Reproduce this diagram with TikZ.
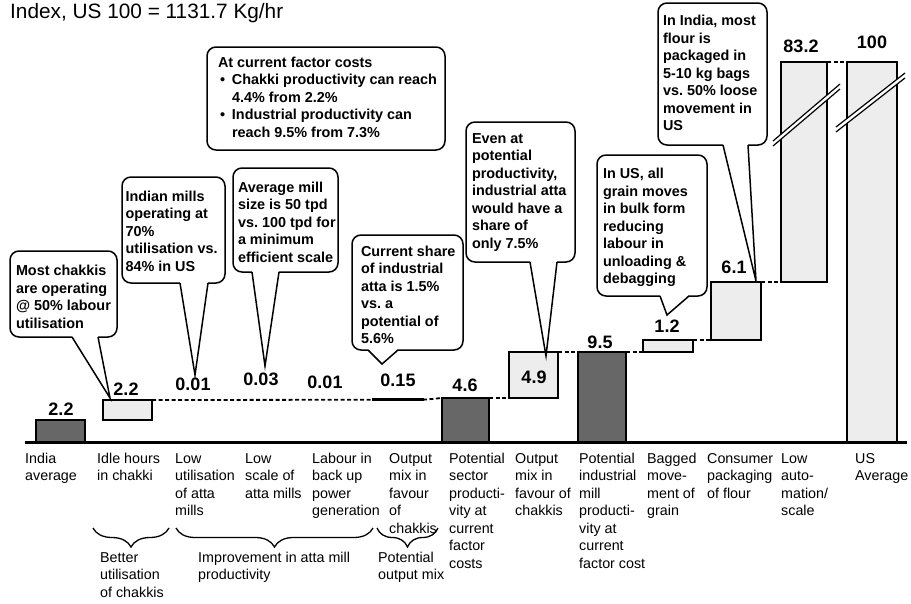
\documentclass[tikz,border=0pt]{standalone}
\usepackage{fontspec}
\setmainfont{Liberation Sans}
\usetikzlibrary{decorations.pathreplacing,calc}
\definecolor{bardark}{HTML}{676767}
\definecolor{barlight}{HTML}{EDEDED}
\newcommand{\fstrut}{\rule{0pt}{11pt}}
% callout body: width, left pad, downward shift, lines
\newcommand{\cbody}[4]{\raisebox{-#3}[\height][\depth]{\makebox[#1][l]{\hspace*{#2}\begin{tabular}{@{}l@{}}#4\end{tabular}}}}
\begin{document}
\frenchspacing
\begin{tikzpicture}[x=1pt,y=-1pt,
  bar/.style={draw=black,line width=1.5pt,inner sep=0pt,outer sep=0pt,anchor=south west},
  dbar/.style={bar,fill=bardark},
  lbar/.style={bar,fill=barlight},
  val/.style={font=\fontsize{18}{20}\selectfont\bfseries,inner sep=0pt,anchor=base},
  cat/.style={font=\fontsize{14.3}{17.5}\selectfont,align=left,inner sep=0pt,anchor=north west},
  callout/.style={draw=black,fill=white,line width=1.5pt,rounded corners=9pt,
     font=\fontsize{14.4}{17.5}\selectfont\bfseries\frenchspacing,inner sep=0pt,
     outer sep=0pt,anchor=north west},
  conn/.style={line width=1.8pt,dash pattern=on 4pt off 2.5pt},
  tailline/.style={line width=1.5pt,line join=miter},
  brc/.style={line width=1.3pt,decorate,decoration={brace,mirror,amplitude=19pt}},
  brk/.style={line width=1.2pt}
]
\useasboundingbox (0,0) rectangle (911,603);

% title
\node[font=\fontsize{20.8}{24}\selectfont,inner sep=0pt,anchor=base west] (title) at (10,18.5) {Index, US 100 = 1131.7 Kg/hr};

% bars
\node[dbar,minimum width=49pt,minimum height=22pt] (b1) at (36,442) {};
\node[lbar,minimum width=49pt,minimum height=20pt] (b2) at (103,420) {};
\node[bar,fill=black,line width=1.2pt,minimum width=50pt,minimum height=1.5pt] (b3) at (373,400.5) {};
\node[dbar,minimum width=47pt,minimum height=44pt] (b4) at (442,442) {};
\node[lbar,minimum width=49pt,minimum height=46pt] (b5) at (509,398) {};
\node[dbar,minimum width=48pt,minimum height=90pt] (b6) at (578,442) {};
\node[lbar,minimum width=50pt,minimum height=12pt] (b7) at (643,352) {};
\node[lbar,minimum width=50pt,minimum height=58pt] (b8) at (711,340) {};
\node[lbar,minimum width=46pt,minimum height=220pt] (b9) at (781,282) {};
\node[lbar,minimum width=50pt,minimum height=380pt] (b10) at (847,442) {};

% axis break marks
\fill[white] (773,141) -- (840,84) -- (840,89) -- (773,146) -- cycle;
\draw[brk] (773,141) -- (840,84) (773,146) -- (840,89);
\fill[white] (836,127) -- (905,73) -- (905,78) -- (836,132) -- cycle;
\draw[brk] (836,127) -- (905,73) (836,132) -- (905,78);

% axis
\draw[line width=3pt] (25,442) -- (907,442);

% connectors
\draw[conn] (b2.north east) -- (b3.west);
\draw[conn] (b3.east) -- (b4.north west);
\draw[conn] (b4.north east) -- (b5.south west);
\draw[conn] (b5.north east) -- (b6.north west);
\draw[conn] (b6.north east) -- (b7.south west);
\draw[conn] (b7.north east) -- (b8.south west);
\draw[conn] (b8.north east) -- (b9.south west);
\draw[conn] (b9.north east) -- (b10.north west);

% value labels
\node[val] (v1) at (61,415) {2.2};
\node[val] (v2) at (126,395) {2.2};
\node[val] (v3) at (193,390) {0.01};
\node[val] (v4) at (261,385) {0.03};
\node[val] (v5) at (325,388) {0.01};
\node[val] (v6) at (398,386) {0.15};
\node[val] (v7) at (465,391) {4.6};
\node[val] (v8) at (534,383) {4.9};
\node[val] (v9) at (600,348) {9.5};
\node[val] (v10) at (667,332) {1.2};
\node[val] (v11) at (734,273) {6.1};
\node[val] (v12) at (801,52) {83.2};
\node[val] (v13) at (872,48) {100};

% category labels
\node[cat] (k1) at (25,452) {\fstrut India\\average};
\node[cat] (k2) at (97,452) {\fstrut Idle hours\\in chakki};
\node[cat] (k3) at (175,452) {\fstrut Low\\utilisation\\of atta\\mills};
\node[cat] (k4) at (245,452) {\fstrut Low\\scale of\\atta mills};
\node[cat] (k5) at (312,452) {\fstrut Labour in\\back up\\power\\generation};
\node[cat] (k6) at (389,452) {\fstrut Output\\mix in\\favour\\of\\chakkis};
\node[cat] (k7) at (449,452) {\fstrut Potential\\sector\\producti-\\vity at\\current\\factor\\costs};
\node[cat] (k8) at (515,452) {\fstrut Output\\mix in\\favour of\\chakkis};
\node[cat] (k9) at (579,452) {\fstrut Potential\\industrial\\mill\\producti-\\vity at\\current\\factor cost};
\node[cat] (k10) at (647,452) {\fstrut Bagged\\move-\\ment of\\grain};
\node[cat] (k11) at (707,452) {\fstrut Consumer\\packaging\\of flour};
\node[cat] (k12) at (781,452) {\fstrut Low\\auto-\\mation/\\scale};
\node[cat] (k13) at (855,452) {\fstrut US\\Average};

% braces and group labels
\draw[brc] (93,528) -- (169,528);
\draw[brc] (176,528) -- (373,528);
\draw[brc] (377,528) -- (438,528);
\node[cat] (g1) at (100,551) {\fstrut Better\\utilisation\\of chakkis};
\node[cat] (g2) at (198,551) {\fstrut Improvement in atta mill\\productivity};
\node[cat] (g3) at (378,551) {\fstrut Potential\\output mix};

% callout tips
\coordinate (t1) at (110,398);
\coordinate (t2) at (195,375);
\coordinate (t3) at (265,366);
\coordinate (t5) at (382,364);
\coordinate (t6) at (546,356);
\coordinate (t7) at (667,315);
\coordinate (t8) at (756,281);

% callouts
\node[callout,minimum width=107pt,minimum height=86pt] (c1) at (10,251)
  {\cbody{107pt}{6pt}{4.5pt}{Most chakkis\\are operating\\@ 50\% labour\\utilisation}};
\node[callout,minimum width=103pt,minimum height=106pt] (c2) at (122,177)
  {\cbody{103pt}{3.5pt}{2.7pt}{Indian mills\\operating at\\70\%\\utilisation vs.\\84\% in US}};
\node[callout,minimum width=105pt,minimum height=104pt] (c3) at (233,168)
  {\cbody{105pt}{5pt}{3.8pt}{Average mill\\size is 50 tpd\\vs. 100 tpd for\\a minimum\\efficient scale}};
\node[callout,minimum width=238pt,minimum height=103pt] (c4) at (207,47)
  {\cbody{238pt}{11pt}{0pt}{At current factor costs\\
   \hspace*{2pt}\makebox[12pt][l]{\textbullet}Chakki productivity can reach\\
   \hspace*{14pt}4.4\% from 2.2\%\\
   \hspace*{2pt}\makebox[12pt][l]{\textbullet}Industrial productivity can\\
   \hspace*{14pt}reach 9.5\% from 7.3\%}};
\node[callout,minimum width=111pt,minimum height=115pt] (c5) at (352,235)
  {\cbody{111pt}{9pt}{4pt}{Current share\\of industrial\\atta is 1.5\%\\vs. a\\potential of\\5.6\%}};
\node[callout,minimum width=109pt,minimum height=140pt] (c6) at (466,122)
  {\cbody{109pt}{6pt}{0pt}{Even at\\potential\\productivity,\\industrial atta\\would have a\\share of\\only 7.5\%}};
\node[callout,minimum width=110pt,minimum height=141pt] (c7) at (597,155)
  {\cbody{110pt}{6pt}{2pt}{In US, all\\grain moves\\in bulk form\\reducing\\labour in\\unloading \&\\debagging}};
\node[callout,minimum width=109pt,minimum height=142pt] (c8) at (658,3)
  {\cbody{109pt}{5pt}{0.5pt}{In India, most\\flour is\\packaged in\\5-10 kg bags\\vs. 50\% loose\\movement in\\US}};

% tails
\foreach \c/\a/\b/\t in {c1/62/88/t1, c2/58/86/t2, c3/19/46/t3, c5/16/46/t5, c6/64/91/t6, c7/63/92/t7, c8/65/90/t8}{
  \fill[white] ($(\c.south west)+(\a,-1)$) -- (\t) -- ($(\c.south west)+(\b,-1)$) -- cycle;
  \draw[tailline] ($(\c.south west)+(\a,0)$) -- (\t) -- ($(\c.south west)+(\b,0)$);
}
\end{tikzpicture}
\end{document}
